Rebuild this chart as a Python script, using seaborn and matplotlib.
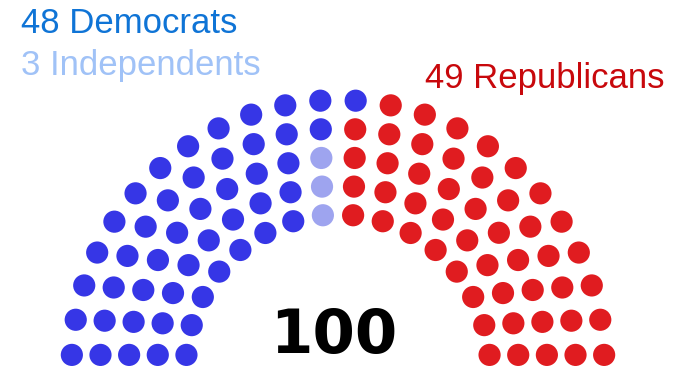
import numpy as np
import pandas as pd
import matplotlib
matplotlib.use("Agg")
import matplotlib.pyplot as plt
import seaborn as sns

# ---- data ----
parties = ["Democrats", "Independents", "Republicans"]
seats = [48, 3, 49]
total_label = "100"
row_counts = [16, 18, 20, 22, 24]   # seats per arc, inner to outer

dot_colors = {"Democrats": "#3636e6", "Independents": "#9ea4ef", "Republicans": "#e01c20"}
text_colors = {"Democrats": "#0f74d6", "Independents": "#a0c2f7", "Republicans": "#c8080c"}

# ---- layout (parliament arc) ----
W, H = 682, 368
cx, cy = 338, 366.5          # pixel position of arc centre
r_inner, r_step = 152.0, 28.6
y_base = 11.6                # height of bottom dot centres above the centre

rows = []
for i, n in enumerate(row_counts):
    r = r_inner + i * r_step
    t0 = np.arcsin(y_base / r)
    angles = np.linspace(np.pi - t0, t0, n)
    for a in angles:
        rows.append({"row": i, "angle": a, "x": r * np.cos(a), "y": r * np.sin(a)})
df = pd.DataFrame(rows).sort_values(["angle", "row"], ascending=[False, True]).reset_index(drop=True)

# independents sit in the innermost seats of the centre-left column
df["party"] = None
centre_left = df[df["angle"] > np.pi / 2].groupby("row")["angle"].idxmin().sort_index()
n_dem, n_ind, n_rep = seats
df.loc[centre_left.values[:n_ind], "party"] = "Independents"
free = df.index[df["party"].isna()]
df.loc[free[:n_dem], "party"] = "Democrats"
df.loc[free[n_dem:], "party"] = "Republicans"

# ---- plot ----
sns.set_theme(style="white")
fig = plt.figure(figsize=(W / 100, H / 100), dpi=100)
ax = fig.add_axes([0, 0, 1, 1])
sns.scatterplot(data=df, x="x", y="y", hue="party", palette=dot_colors,
                s=255, linewidth=0, legend=False, ax=ax)
ax.set_xlim(-cx, W - cx)
ax.set_ylim(-(H - cy), cy)
ax.axis("off")

def ftext(px, py, s, **kw):
    fig.text(px / W, 1 - py / H, s, va="baseline", **kw)

ftext(21, 33, f"{seats[0]} {parties[0]}", color=text_colors["Democrats"],
      fontsize=25, family=["Liberation Sans", "DejaVu Sans"])
ftext(21, 75, f"{seats[1]} {parties[1]}", color=text_colors["Independents"],
      fontsize=25, family=["Liberation Sans", "DejaVu Sans"])
ftext(425, 88, f"{seats[2]} {parties[2]}", color=text_colors["Republicans"],
      fontsize=25, family=["Liberation Sans", "DejaVu Sans"])
fig.text(334 / W, 1 - 353 / H, total_label, ha="center", va="baseline",
         fontsize=44, fontweight="bold", color="black", family=["DejaVu Sans"])

fig.savefig("out.png", dpi=100)
